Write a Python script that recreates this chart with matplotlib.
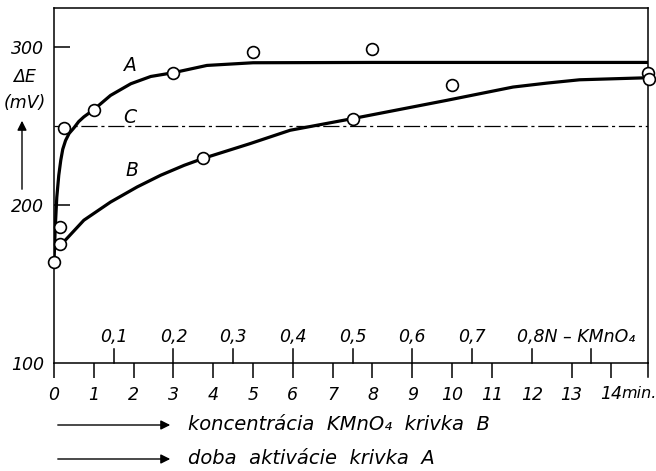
import matplotlib
matplotlib.use('Agg')
import matplotlib.pyplot as plt

# curve A (activation time, min)
curve_a_x = [0, 0.03, 0.07, 0.12, 0.17, 0.22, 0.29, 0.38, 0.5, 0.62, 0.75, 1.0, 1.42, 1.93, 2.43, 3.0, 3.84, 5.0, 8.0, 14.92]
curve_a_y = [164, 185, 205, 219, 228.5, 235.5, 241, 245.5, 249, 253, 256, 260.6, 269.6, 277, 281.6, 284, 288.6, 290.3, 290.5, 290.5]

# curve B (KMnO4 concentration, on the minute scale)
curve_b_x = [0.15, 0.29, 0.75, 1.42, 2.09, 2.68, 3.27, 3.75, 4.92, 5.93, 7.5, 9.87, 11.53, 12.38, 13.2, 14.92]
curve_b_y = [175.3, 178, 190.5, 202, 211.6, 219, 225.3, 229.7, 239, 247.5, 254.9, 266.5, 274.9, 277.4, 279.5, 280.8]

# measured points
points_x = [0, 0.15, 0.15, 0.25, 1.0, 3.0, 3.75, 5.0, 7.5, 8.0, 10.0, 14.93, 14.95]
points_y = [164, 186.3, 175.3, 249, 260.6, 283.5, 229.7, 296.8, 254.9, 298.7, 276, 283.7, 280.2]

level_c = 250

minutes = list(range(0, 15))
minute_labels = [str(m) for m in minutes[:-1]] + ['']
conc_values = [0.1, 0.2, 0.3, 0.4, 0.5, 0.6, 0.7, 0.8, 0.9]
conc_labels = ['0,1', '0,2', '0,3', '0,4', '0,5', '0,6', '0,7', '', '']
min_per_conc = 15  # 0.1 N = 1.5 min on the drawing

y_labels = {300: '300', 200: '200', 100: '100'}

x_max = 14.92
y_min, y_max = 100, 325

fig = plt.figure(figsize=(6.56, 4.71), dpi=100)
W, H = 656, 471
ax = fig.add_axes([54 / W, 1 - 363 / H, (648 - 54) / W, (363 - 8) / H])
ax.set_xlim(0, x_max)
ax.set_ylim(y_min, y_max)

px_x = (648 - 54) / x_max      # pixels per minute
px_y = (363 - 8) / (y_max - y_min)  # pixels per mV

font = dict(family='DejaVu Sans', style='italic', color='black')
fs = 12.5

for s in ax.spines.values():
    s.set_linewidth(1.1)

# curves
ax.plot(curve_a_x, curve_a_y, color='black', lw=2.3, solid_capstyle='round',
        solid_joinstyle='round', zorder=3)
ax.plot(curve_b_x, curve_b_y, color='black', lw=2.3, solid_capstyle='round',
        solid_joinstyle='round', zorder=3)
ax.plot([0, x_max], [level_c, level_c], color='black', lw=0.9,
        linestyle=(0, (13, 3, 2.5, 3)), zorder=2)
ax.plot(points_x, points_y, 'o', ms=8.5, mfc='white', mec='black', mew=1.2,
        clip_on=False, zorder=4)

# minute axis (ticks downward)
ax.set_xticks(minutes)
ax.set_xticklabels(minute_labels, fontsize=fs, **font)
ax.tick_params(axis='x', direction='out', length=10.5, width=1.1, pad=6)
ax.xaxis.get_major_ticks()[12].tick1line.set_visible(False)
lab_y = y_min - 31 / px_y
ax.text(14, lab_y, '14', ha='center', va='center', fontsize=fs, **font)
ax.text(14 + 10 / px_x, lab_y, 'min.', ha='left', va='center', fontsize=11.5, **font)

# right axis extension below the base line
ax.plot([x_max, x_max], [y_min, y_min - 14 / px_y], color='black', lw=1.1, clip_on=False)

# concentration scale (ticks upward)
for c, lab in zip(conc_values, conc_labels):
    xp = c * min_per_conc
    ax.plot([xp, xp], [y_min, y_min + 14 / px_y], color='black', lw=1.1, clip_on=False)
    if lab:
        ax.text(xp, y_min + 17 / px_y, lab, ha='center', va='bottom', fontsize=fs, **font)
ax.text(11.62, y_min + 17 / px_y, '0,8N \u2013 KMnO\u2084', ha='left', va='bottom',
        fontsize=fs, **font)

# y axis
ax.set_yticks([200, 300])
ax.set_yticklabels([])
ax.tick_params(axis='y', direction='in', length=11.5, width=1.1)
for v, lab in y_labels.items():
    ax.text(-10 / px_x, v - 2 / px_y, lab, ha='right', va='center', fontsize=fs, **font)
ax.text(-29 / px_x, y_min + (363 - 77) / px_y, '\u0394E', ha='center', va='center', fontsize=fs, **font)
ax.text(-29 / px_x, y_min + (363 - 103) / px_y, '(mV)', ha='center', va='center', fontsize=fs, **font)
ax.annotate('', xy=(-32 / px_x, y_min + (363 - 118) / px_y),
            xytext=(-32 / px_x, y_min + (363 - 192) / px_y),
            arrowprops=dict(arrowstyle='-|>', color='black', lw=1.0, mutation_scale=14),
            annotation_clip=False)

# curve names
ax.text(1.93, 288.5, 'A', ha='center', va='center', fontsize=13.5, **font)
ax.text(1.9, 255.7, 'C', ha='center', va='center', fontsize=13.5, **font)
ax.text(1.95, 222, 'B', ha='center', va='center', fontsize=13.5, **font)

# explanation arrows under the chart
for ypx, txt in [(425, 'koncentrácia  KMnO\u2084  krivka  B'),
                 (459, 'doba  aktivácie  krivka  A')]:
    fig.patches.append(matplotlib.patches.FancyArrowPatch(
        (55 / W, 1 - ypx / H), (173 / W, 1 - ypx / H), transform=fig.transFigure,
        arrowstyle='-|>', mutation_scale=14, color='black', lw=1.0))
    fig.text(188 / W, 1 - ypx / H, txt, ha='left', va='center', fontsize=14, **font)

fig.savefig('out.png', dpi=100, facecolor='white')
